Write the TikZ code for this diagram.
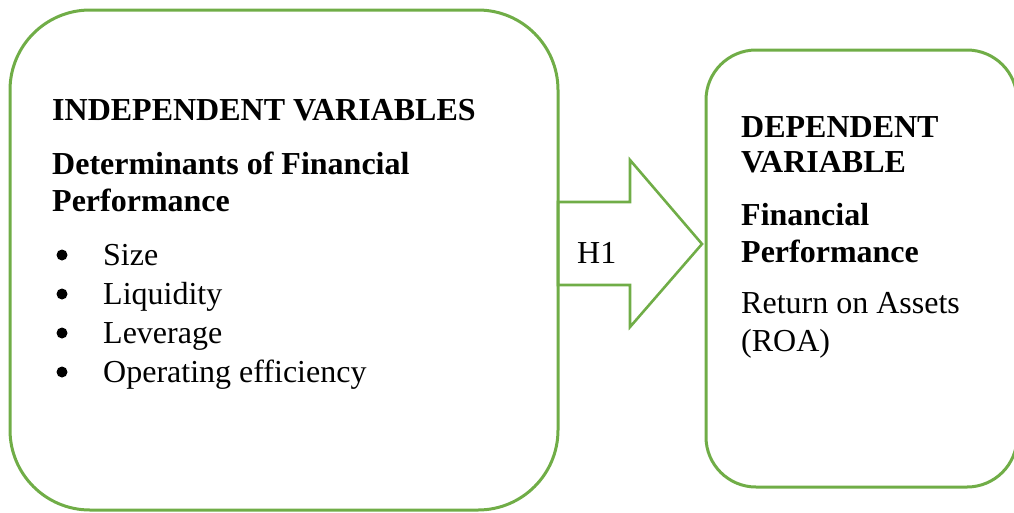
\documentclass[tikz,border=0pt]{standalone}
\usepackage{fontspec}
\setmainfont{Liberation Serif}
\usepackage{tikz}
\usetikzlibrary{positioning}
\usepackage{xcolor}
\definecolor{leafgreen}{HTML}{70AD47}

\tikzset{
  panel/.style={draw=leafgreen, line width=3pt},
  hdr/.style={anchor=base west, inner sep=0pt, font=\fontsize{32}{37}\selectfont\bfseries},
  txt/.style={anchor=base west, inner sep=0pt, font=\fontsize{32}{37}\selectfont},
  dot/.style={circle, fill=black, inner sep=0pt, minimum size=11pt}
}

\begin{document}
\begin{tikzpicture}[x=1pt, y=-1pt]
    \useasboundingbox (0,0) rectangle (1014,512);
    \clip (0,0) rectangle (1014,512);

    % The two panels
    \draw[panel, rounded corners=80pt] (10,10) rectangle (558,510);
    \draw[panel, rounded corners=50pt] (706,50) rectangle (1017,487);

    % Hypothesis arrow
    \draw[leafgreen, line width=2.6pt, line join=miter]
        (558,202) -- (630,202) -- (630,160) -- (702,244)
        -- (630,327) -- (630,285) -- (558,285) -- cycle;
    \node[txt] (hyp) at (577,263) {H1};

    % Independent side
    \node[hdr] (indep) at (52,120) {INDEPENDENT VARIABLES};
    \node[hdr] (determ) at (52,174) {Determinants of Financial};
    \node[hdr] (determb) at (52,211) {Performance};
    \foreach \y/\name [count=\i] in {265/Size, 304/Liquidity, 343/Leverage, 382/Operating efficiency} {
        \node[dot] (dot\i) at (62,\y-10) {};
        \node[txt] (var\i) at (103,\y) {\name};
    }

    % Dependent side
    \node[hdr] (dep) at (741,137) {DEPENDENT};
    \node[hdr] (depb) at (741,172) {VARIABLE};
    \node[hdr] (fin) at (741,225) {Financial};
    \node[hdr] (finb) at (741,262) {Performance};
    \node[txt] (roa) at (741,313) {Return on Assets};
    \node[txt] (roab) at (741,351) {(ROA)};
\end{tikzpicture}
\end{document}
